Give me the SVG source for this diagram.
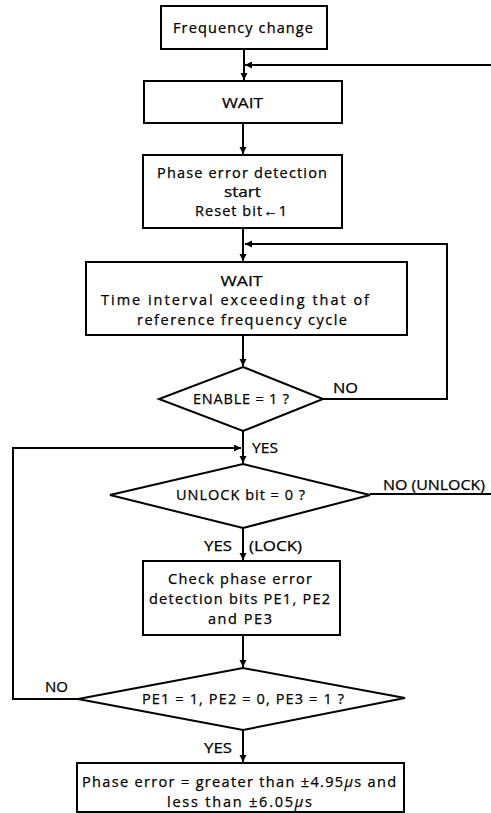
<svg xmlns="http://www.w3.org/2000/svg" width="491" height="813" viewBox="0 0 491 813">
<style>
.box{fill:#fff;stroke:#000;stroke-width:2}
.dia{fill:#fff;stroke:#000;stroke-width:2;stroke-linejoin:miter}
.ln{fill:none;stroke:#000;stroke-width:2}
text{font-family:"Open Sans","Liberation Sans",sans-serif;font-size:14.5px;fill:#000;stroke:#000;stroke-width:0.25}
.c{text-anchor:middle}
</style>
<defs>
<marker id="ah" markerUnits="userSpaceOnUse" markerWidth="8" markerHeight="8" refX="7" refY="3.5" orient="auto">
<path d="M0,0 L7,3.5 L0,7 z" fill="#000"/>
</marker>
</defs>
<rect width="491" height="813" fill="#fff"/>
<g id="connectors">
<line class="ln" x1="244" y1="49" x2="244" y2="80" marker-end="url(#ah)"/>
<line class="ln" x1="491" y1="65" x2="245" y2="65" marker-end="url(#ah)"/>
<line class="ln" x1="243" y1="123" x2="243" y2="154" marker-end="url(#ah)"/>
<line class="ln" x1="243" y1="228" x2="243" y2="261" marker-end="url(#ah)"/>
<polyline class="ln" points="323,399 447,399 447,244 245,244" marker-end="url(#ah)"/>
<line class="ln" x1="243" y1="335" x2="243" y2="366" marker-end="url(#ah)"/>
<line class="ln" x1="243" y1="431" x2="243" y2="463" marker-end="url(#ah)"/>
<line class="ln" x1="370" y1="494" x2="491" y2="494"/>
<line class="ln" x1="243" y1="528" x2="243" y2="560" marker-end="url(#ah)"/>
<line class="ln" x1="243" y1="635" x2="243" y2="667" marker-end="url(#ah)"/>
<polyline class="ln" points="78,699 13,699 13,448 241,448" marker-end="url(#ah)"/>
<line class="ln" x1="243" y1="730" x2="243" y2="762" marker-end="url(#ah)"/>
<text x="333" y="393" textLength="25" lengthAdjust="spacingAndGlyphs">NO</text>
<text x="252" y="453" textLength="26" lengthAdjust="spacingAndGlyphs">YES</text>
<text x="383" y="490" textLength="102" lengthAdjust="spacingAndGlyphs">NO (UNLOCK)</text>
<text x="204" y="551" textLength="28" lengthAdjust="spacingAndGlyphs">YES</text>
<text x="249" y="551" textLength="53" lengthAdjust="spacingAndGlyphs">(LOCK)</text>
<text x="45" y="692" textLength="23" lengthAdjust="spacingAndGlyphs">NO</text>
<text x="204" y="753" textLength="28" lengthAdjust="spacingAndGlyphs">YES</text>
</g>
<g id="n1">
<rect class="box" x="161" y="6" width="166" height="43"/>
<text class="c" x="243" y="33" textLength="140">Frequency change</text>
</g>
<g id="n2">
<rect class="box" x="144" y="81" width="198" height="42"/>
<text class="c" x="242.5" y="107.5" textLength="41" lengthAdjust="spacingAndGlyphs">WAIT</text>
</g>
<g id="n3">
<rect class="box" x="143" y="155" width="199" height="73"/>
<text class="c" x="242" y="178" textLength="170">Phase error detection</text>
<text class="c" x="242.5" y="197" textLength="37" lengthAdjust="spacingAndGlyphs">start</text>
<text class="c" x="241" y="216" textLength="92">Reset bit←1</text>
</g>
<g id="n4">
<rect class="box" x="86" y="262" width="321" height="73"/>
<text class="c" x="241.5" y="285.5" textLength="42" lengthAdjust="spacingAndGlyphs">WAIT</text>
<text class="c" x="235" y="305" textLength="268">Time interval exceeding that of</text>
<text class="c" x="242" y="325" textLength="210">reference frequency cycle</text>
</g>
<g id="n5">
<polygon class="dia" points="243,367 323,399 243,431 159,399"/>
<text class="c" x="241" y="404" textLength="96">ENABLE = 1 ?</text>
</g>
<g id="n6">
<polygon class="dia" points="243,464 370,495 243,528 110,495"/>
<text class="c" x="240.5" y="500" textLength="129">UNLOCK bit = 0 ?</text>
</g>
<g id="n7">
<rect class="box" x="143" y="561" width="197" height="74"/>
<text class="c" x="240" y="584" textLength="144">Check phase error</text>
<text class="c" x="239.5" y="604" textLength="181">detection bits PE1, PE2</text>
<text class="c" x="240" y="624" textLength="64">and PE3</text>
</g>
<g id="n8">
<polygon class="dia" points="243,668 405,698 243,730 78,699"/>
<text class="c" x="243" y="704" textLength="202">PE1 = 1, PE2 = 0, PE3 = 1 ?</text>
</g>
<g id="n9">
<rect class="box" x="77" y="763" width="327" height="49"/>
<text class="c" x="239" y="787" textLength="314">Phase error = greater than ±4.95<tspan font-style="italic">μ</tspan>s and</text>
<text class="c" x="239.5" y="807" textLength="145">less than ±6.05<tspan font-style="italic">μ</tspan>s</text>
</g>
</svg>
